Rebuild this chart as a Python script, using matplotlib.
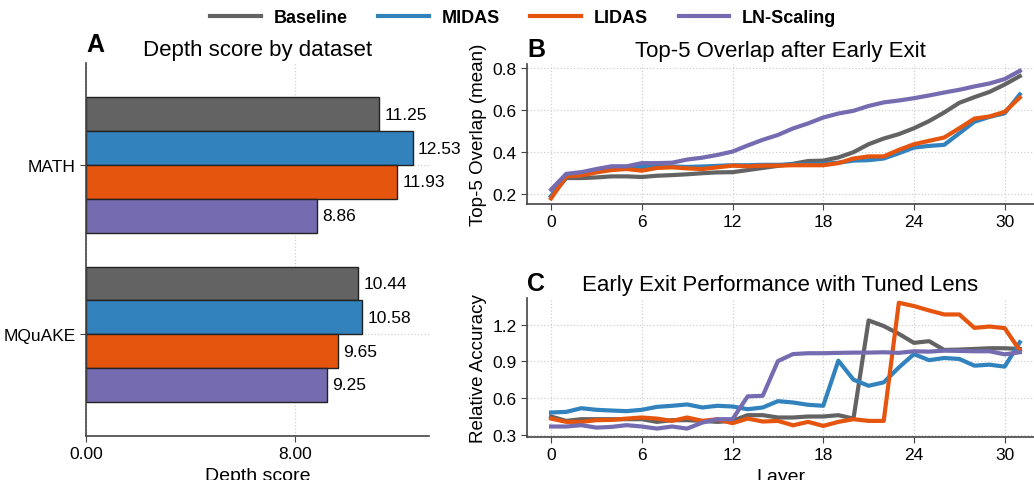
import matplotlib
matplotlib.use('Agg')
import matplotlib.pyplot as plt
import numpy as np

plt.rcParams['font.family'] = ['Liberation Sans', 'DejaVu Sans']

# data
methods = ['Baseline', 'MIDAS', 'LIDAS', 'LN-Scaling']
colors = ['#636363', '#3182bd', '#e6550d', '#756bb1']
datasets = ['MATH', 'MQuAKE']
depth_scores = {
    'Baseline': [11.25, 10.44],
    'MIDAS': [12.53, 10.58],
    'LIDAS': [11.93, 9.65],
    'LN-Scaling': [8.86, 9.25],
}

layers = np.arange(32)
overlap = {
    'Baseline': [0.19, 0.277, 0.277, 0.280, 0.285, 0.285, 0.282, 0.288, 0.291, 0.295, 0.300, 0.304,
                 0.305, 0.315, 0.325, 0.335, 0.345, 0.358, 0.360, 0.375, 0.400, 0.438, 0.465, 0.486,
                 0.514, 0.548, 0.589, 0.635, 0.662, 0.687, 0.722, 0.762],
    'MIDAS': [0.19, 0.29, 0.29, 0.31, 0.32, 0.325, 0.33, 0.33, 0.332, 0.33, 0.332, 0.335,
              0.338, 0.338, 0.34, 0.34, 0.342, 0.343, 0.345, 0.35, 0.36, 0.362, 0.37, 0.395,
              0.422, 0.43, 0.435, 0.49, 0.545, 0.568, 0.585, 0.675],
    'LIDAS': [0.18, 0.285, 0.29, 0.304, 0.315, 0.32, 0.312, 0.325, 0.328, 0.323, 0.32, 0.328,
              0.336, 0.333, 0.336, 0.336, 0.338, 0.338, 0.338, 0.348, 0.37, 0.38, 0.38, 0.411,
              0.438, 0.454, 0.47, 0.514, 0.56, 0.57, 0.592, 0.66],
    'LN-Scaling': [0.222, 0.297, 0.305, 0.32, 0.333, 0.333, 0.348, 0.348, 0.35, 0.365, 0.374, 0.387,
                   0.403, 0.432, 0.459, 0.482, 0.513, 0.537, 0.565, 0.584, 0.597, 0.62, 0.637, 0.646,
                   0.657, 0.67, 0.684, 0.697, 0.713, 0.727, 0.748, 0.787],
}
rel_acc = {
    'Baseline': [0.448, 0.412, 0.426, 0.426, 0.426, 0.426, 0.426, 0.404, 0.418, 0.418, 0.412, 0.404,
                 0.412, 0.459, 0.459, 0.44, 0.44, 0.448, 0.448, 0.459, 0.431, 1.236, 1.19, 1.126,
                 1.052, 1.066, 0.994, 0.997, 1.002, 1.008, 1.008, 1.002],
    'MIDAS': [0.481, 0.486, 0.516, 0.503, 0.497, 0.492, 0.503, 0.527, 0.536, 0.547, 0.522, 0.536,
              0.53, 0.508, 0.522, 0.574, 0.563, 0.544, 0.536, 0.906, 0.75, 0.70, 0.728, 0.85,
              0.96, 0.91, 0.928, 0.92, 0.865, 0.873, 0.857, 1.057],
    'LIDAS': [0.431, 0.404, 0.404, 0.418, 0.42, 0.431, 0.44, 0.431, 0.412, 0.44, 0.412, 0.426,
              0.393, 0.431, 0.407, 0.412, 0.376, 0.404, 0.371, 0.404, 0.426, 0.412, 0.412, 1.381,
              1.354, 1.318, 1.285, 1.285, 1.175, 1.186, 1.173, 0.99],
    'LN-Scaling': [0.366, 0.366, 0.377, 0.357, 0.363, 0.377, 0.366, 0.349, 0.366, 0.349, 0.398, 0.426,
                   0.426, 0.613, 0.618, 0.902, 0.96, 0.967, 0.967, 0.97, 0.972, 0.972, 0.975, 0.97,
                   0.983, 0.98, 0.988, 0.986, 0.983, 0.983, 0.958, 0.975],
}

fig = plt.figure(figsize=(10.34, 4.81), dpi=100)
axA = fig.add_axes([0.0832, 0.092, 0.332, 0.774])
axB = fig.add_axes([0.5097, 0.574, 0.4903, 0.291])
axC = fig.add_axes([0.5097, 0.0894, 0.4903, 0.289])

def style(ax):
    ax.spines['top'].set_visible(False)
    ax.spines['right'].set_visible(False)
    for s in ['left', 'bottom']:
        ax.spines[s].set_color('#444444')
        ax.spines[s].set_linewidth(1.2)
    ax.tick_params(labelsize=12.5, length=4, color='#444444')
    ax.grid(True, linestyle=':', color='#d0d0d0', linewidth=0.9)
    ax.set_axisbelow(True)

# panel A
style(axA)
y = np.arange(len(datasets))
h = 0.2
for i, m in enumerate(methods):
    pos = y + (i - 1.5) * h
    axA.barh(pos, depth_scores[m], height=h, color=colors[i], edgecolor='#222222', linewidth=1.0)
    for p, v in zip(pos, depth_scores[m]):
        axA.text(v + 0.2, p, f'{v:.2f}', va='center', ha='left', fontsize=12.5)
axA.set_yticks(y)
axA.set_yticklabels(datasets)
axA.set_ylim(1.6, -0.6)
axA.set_xlim(0, 13.16)
axA.set_xticks([0, 8])
axA.set_xticklabels(['0.00', '8.00'])
axA.set_xlabel('Depth score', fontsize=14)
axA.set_title('Depth score by dataset', fontsize=16)
axA.text(0, 1.02, 'A', transform=axA.transAxes, fontsize=18, fontweight='bold', va='bottom', ha='left')

# panel B
style(axB)
for i, m in enumerate(methods):
    axB.plot(layers, overlap[m], color=colors[i], lw=3, label=m)
axB.set_xlim(-1.59, 31.94)
axB.set_ylim(0.154, 0.82)
axB.set_xticks([0, 6, 12, 18, 24, 30])
axB.set_yticks([0.2, 0.4, 0.6, 0.8])
axB.set_ylabel('Top-5 Overlap (mean)', fontsize=13.5)
axB.set_title('Top-5 Overlap after Early Exit', fontsize=16)
axB.text(0, 1.02, 'B', transform=axB.transAxes, fontsize=18, fontweight='bold', va='bottom', ha='left')

# panel C
style(axC)
for i, m in enumerate(methods):
    axC.plot(layers, rel_acc[m], color=colors[i], lw=3)
axC.set_xlim(-1.59, 31.94)
axC.set_ylim(0.28, 1.42)
axC.set_xticks([0, 6, 12, 18, 24, 30])
axC.set_yticks([0.3, 0.6, 0.9, 1.2])
axC.set_xlabel('Layer', fontsize=14)
axC.set_ylabel('Relative Accuracy', fontsize=13.5)
axC.set_title('Early Exit Performance with Tuned Lens', fontsize=16)
axC.text(0, 1.02, 'C', transform=axC.transAxes, fontsize=18, fontweight='bold', va='bottom', ha='left')

handles, labels = axB.get_legend_handles_labels()
fig.legend(handles, labels, loc='upper center', bbox_to_anchor=(0.506, 1.012), ncol=4, frameon=False,
           handlelength=2.8, handletextpad=0.7, columnspacing=1.7, prop={'weight': 'bold', 'size': 13})

fig.savefig('out.png', dpi=100)
plt.close(fig)
